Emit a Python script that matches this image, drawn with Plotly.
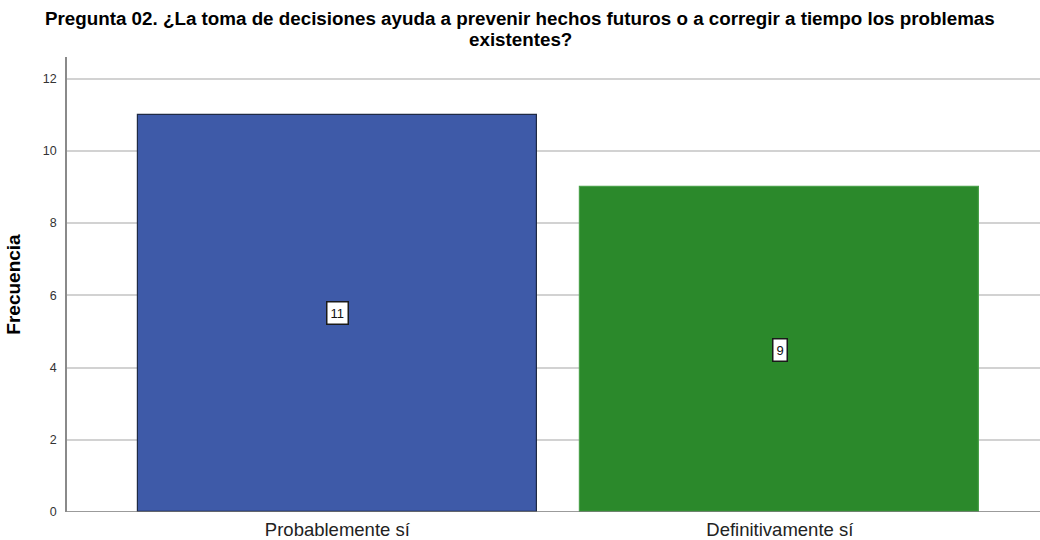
import plotly.graph_objects as go

categories = ["Probablemente sí", "Definitivamente sí"]
frequencies = [11, 9]
bar_colors = ["#3e5aa8", "#2b892b"]
bar_edges = ["#1f2a44", "#4aa04a"]
y_ticks = [0, 2, 4, 6, 8, 10, 12]

title_lines = [
    "Pregunta 02. ¿La toma de decisiones ayuda a prevenir hechos futuros "
    "o a corregir a tiempo los problemas",
    "existentes?",
]

FONT = "Liberation Sans, Arial"

fig = go.Figure()
fig.add_trace(go.Bar(
    x=categories,
    y=frequencies,
    width=0.902,
    marker=dict(color=bar_colors, line=dict(color=bar_edges, width=1.2)),
    hoverinfo="x+y",
))

# Value boxes centred in each bar
for cat, val in zip(categories, frequencies):
    fig.add_annotation(
        x=cat, y=val / 2, text=str(val), showarrow=False,
        font=dict(family=FONT, size=13, color="#111111"),
        bgcolor="white", bordercolor="#1a1a1a", borderwidth=1.5, borderpad=3,
    )

# Two-line bold title
for line, ypos in zip(title_lines, [1.0857, 1.0374]):
    fig.add_annotation(
        x=0.4656, y=ypos, xref="paper", yref="paper", text=f"<b>{line}</b>",
        showarrow=False, xanchor="center", yanchor="middle",
        font=dict(family=FONT, size=18.8, color="#000000"),
    )

fig.update_layout(
    width=1040, height=540,
    margin=dict(l=67, r=0, t=57, b=28),
    paper_bgcolor="white", plot_bgcolor="white",
    showlegend=False,
    bargap=0,
    xaxis=dict(
        range=[-0.611, 1.588],
        showgrid=False, zeroline=False,
        showline=False, ticks="",
        ticklabelstandoff=4,
        tickfont=dict(family=FONT, size=18.5, color="#222222"),
    ),
    yaxis=dict(
        range=[0, 12.6],
        tickvals=y_ticks,
        showgrid=True, gridcolor="#d2d2d2", gridwidth=1.5,
        zeroline=False,
        showline=True, linecolor="#8a8a8a", linewidth=1.5,
        ticks="", ticklen=0,
        ticklabelstandoff=6,
        tickfont=dict(family=FONT, size=12.5, color="#333333"),
        title=dict(text="<b>Frecuencia</b>", standoff=17,
                   font=dict(family=FONT, size=19, color="#000000")),
    ),
)

# Baseline along the category axis
fig.add_shape(type="line", xref="paper", yref="y", x0=0, x1=1, y0=0, y1=0,
              line=dict(color="#7a7a7a", width=1.5), layer="above")

fig.write_html("out.html")
